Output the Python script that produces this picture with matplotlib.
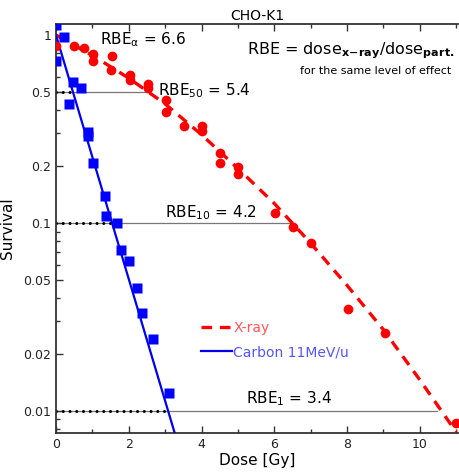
import numpy as np
import matplotlib
matplotlib.use('Agg')
import matplotlib.pyplot as plt
from matplotlib.ticker import FixedLocator, NullFormatter

plt.rcParams['font.family'] = 'DejaVu Sans'
plt.rcParams['mathtext.default'] = 'regular'

xray_dose = [0.0, 0.49, 0.77, 1.01, 1.01, 1.53, 1.51, 2.03, 2.03, 2.52, 2.52, 3.01, 3.01,
             3.51, 4.0, 4.0, 4.52, 4.52, 5.01, 5.01, 6.03, 6.52, 7.01, 8.03, 9.04, 11.0]
xray_surv = [0.87, 0.87, 0.85, 0.79, 0.73, 0.77, 0.65, 0.61, 0.58, 0.55, 0.52, 0.45, 0.39,
             0.33, 0.33, 0.31, 0.236, 0.209, 0.198, 0.182, 0.113, 0.095, 0.078, 0.035, 0.026, 0.0086]
carbon_dose = [0.0, 0.22, 0.0, 0.47, 0.68, 0.36, 0.88, 0.88, 1.01, 1.34, 1.37, 1.67,
               1.78, 2.0, 2.22, 2.36, 2.66, 3.10]
carbon_surv = [1.13, 0.98, 0.73, 0.56, 0.52, 0.43, 0.305, 0.29, 0.209, 0.139, 0.109, 0.10,
               0.072, 0.063, 0.045, 0.033, 0.024, 0.0125]

# fitted curves
xfit_dose = [0, 1, 2, 3, 4, 5, 6, 7, 8, 9, 10, 11]
xfit_surv = [1.0, 0.78, 0.59, 0.43, 0.295, 0.195, 0.127, 0.078, 0.0465, 0.027, 0.0146, 0.0077]
cfit_dose = [0.0, 3.3]
cfit_surv = [1.0, 0.0072]

# RBE reference levels
levels = [0.5, 0.1, 0.01]
carbon_at_level = [0.46, 1.55, 3.0]
xray_at_level = [2.52, 6.52, 10.47]

fig = plt.figure(figsize=(4.59, 4.73), dpi=100)
ax = fig.add_axes([0.122, 0.085, 0.876, 0.864])

for lv, dc, dx in zip(levels, carbon_at_level, xray_at_level):
    ax.plot([0, dx], [lv, lv], color='#777777', lw=0.9, zorder=1)
    ax.plot([0, dc], [lv, lv], color='black', lw=2.2, ls=(0, (0.01, 2.2)),
            dash_capstyle='round', zorder=2)

ax.plot(xfit_dose, xfit_surv, color='#ff0000', lw=2.4, ls=(0, (3.2, 2.3)), label='X-ray', zorder=3)
ax.plot(cfit_dose, cfit_surv, color='#0000ee', lw=1.6, label='Carbon 11MeV/u', zorder=3)
ax.plot(xray_dose, xray_surv, 'o', color='#ff0000', ms=7, mec='none', zorder=4)
ax.plot(carbon_dose, carbon_surv, 's', color='#0000ff', ms=6.8, mec='none', zorder=4)

ax.set_yscale('log')
ax.set_xlim(0, 11.05)
ax.set_ylim(0.00764, 1.144)

yt = [0.01, 0.02, 0.05, 0.1, 0.2, 0.5, 1]
ax.yaxis.set_major_locator(FixedLocator(yt))
ax.set_yticklabels(['0.01', '0.02', '0.05', '0.1', '0.2', '0.5', '1'])
ax.yaxis.set_minor_locator(FixedLocator([0.008, 0.009, 0.03, 0.04, 0.06, 0.07, 0.08, 0.09,
                                         0.3, 0.4, 0.6, 0.7, 0.8, 0.9]))
ax.yaxis.set_minor_formatter(NullFormatter())
ax.set_xticks([0, 2, 4, 6, 8, 10])
ax.xaxis.set_minor_locator(FixedLocator([1, 3, 5, 7, 9, 11]))
ax.tick_params(which='both', direction='in', top=True, right=False, labelsize=9,
               color='#333333', labelcolor='#222222')
ax.tick_params(which='major', length=5, width=1)
ax.tick_params(which='minor', length=3, width=1)
ax.spines['right'].set_visible(False)
for s in ['left', 'bottom', 'top']:
    ax.spines[s].set_linewidth(1.3)
    ax.spines[s].set_color('#333333')

ax.set_xlabel('Dose [Gy]', fontsize=11, labelpad=2)
ax.set_ylabel('Survival', fontsize=11, labelpad=6)
ax.set_title('CHO-K1', fontsize=10, pad=3)

ax.text(1.2, 0.94, r'RBE$_\alpha$ = 6.6', fontsize=11, va='center')
ax.text(2.8, 0.505, r'RBE$_{50}$ = 5.4', fontsize=11, va='center')
ax.text(3.0, 0.114, r'RBE$_{10}$ = 4.2', fontsize=11, va='center')
ax.text(5.23, 0.0116, r'RBE$_1$ = 3.4', fontsize=11, va='center')
ax.text(10.95, 0.83, r'RBE = dose$_{\mathbf{x\!-\!ray}}$/dose$_{\mathbf{part.}}$', fontsize=11.5,
        va='center', ha='right')
ax.text(10.85, 0.645, 'for the same level of effect', fontsize=8, va='center', ha='right')

leg = ax.legend(loc='upper left', bbox_to_anchor=(0.33, 0.305), frameon=False, fontsize=10,
                handlelength=2.2, handletextpad=0.1, labelspacing=0.75)
leg.get_texts()[0].set_color('#ff5555')
leg.get_texts()[1].set_color('#5555ff')

fig.savefig('out.png', dpi=100)
